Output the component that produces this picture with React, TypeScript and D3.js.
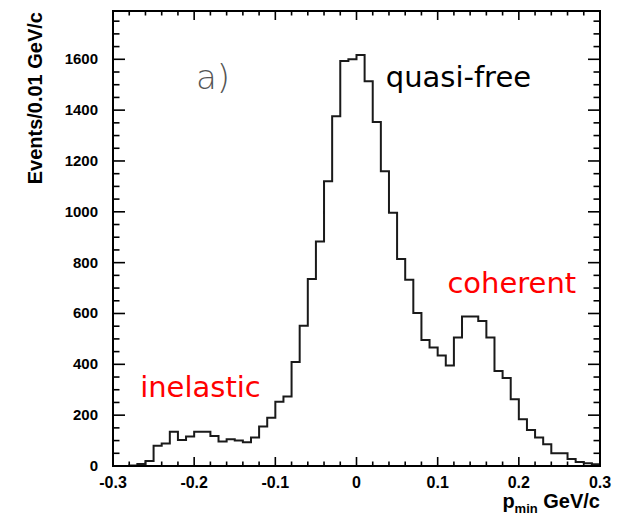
import React from "react";
import * as d3 from "d3";

// ---- data (Events per 0.01 GeV/c bin, bins from -0.30 to 0.30) ----
const binStart = -0.3;
const binWidth = 0.01;
const counts: number[] = [
  0, 0, 2, 8, 20, 80, 89, 135, 102, 116,
  135, 135, 118, 96, 105, 100, 93, 112, 155, 190,
  253, 273, 409, 552, 736, 883, 1120, 1376, 1593, 1600,
  1617, 1514, 1353, 1160, 996, 814, 733, 602, 496, 466,
  435, 395, 506, 588, 588, 570, 506, 374, 346, 263,
  184, 142, 112, 86, 50, 50, 28, 16, 11, 7,
];
const xTickLabels = ["-0.3", "-0.2", "-0.1", "0", "0.1", "0.2", "0.3"];
const xTickValues = [-0.3, -0.2, -0.1, 0, 0.1, 0.2, 0.3];
const yTickValues = [0, 200, 400, 600, 800, 1000, 1200, 1400, 1600];
const yTickLabels = ["0", "200", "400", "600", "800", "1000", "1200", "1400", "1600"];
const annotations = [
  { text: "quasi-free", x: 0.036, y: 1490, color: "#000" },
  { text: "coherent", x: 0.112, y: 680, color: "#ff0000" },
  { text: "inelastic", x: -0.2665, y: 270, color: "#ff0000" },
];

const W = 621;
const H = 517;
const L = 113, R = 600, T = 11, B = 466;

export default function App() {
  const x = d3.scaleLinear().domain([-0.3, 0.3]).range([L, R]);
  const y = d3.scaleLinear().domain([0, 1790]).range([B, T]);

  const pts: [number, number][] = counts.map((c, i) => [binStart + i * binWidth, c]);
  pts.push([binStart + counts.length * binWidth, counts[counts.length - 1]]);
  const line = d3
    .line<[number, number]>()
    .x((d) => x(d[0]))
    .y((d) => y(d[1]))
    .curve(d3.curveStepAfter);
  const path = line(pts) || "";

  const xMinor = d3.range(0, 31).map((i) => -0.3 + i * 0.02);
  const yMinor = d3.range(0, 36).map((i) => i * 50);

  const tickFont = "'Liberation Sans', Arial, sans-serif";
  const annFont = "'DejaVu Sans', sans-serif";

  return (
    <svg width={W} height={H} style={{ position: "absolute", left: 0, top: 0, background: "#fff" }}>
      <rect x={0} y={0} width={W} height={H} fill="#fff" />
      {/* ticks */}
      <g stroke="#000" strokeWidth={1.6}>
        {xMinor.map((v, i) => {
          const major = i % 5 === 0;
          const len = major ? 9 : 4.5;
          return (
            <g key={"xm" + i}>
              <line x1={x(v)} x2={x(v)} y1={B} y2={B - len} />
              <line x1={x(v)} x2={x(v)} y1={T} y2={T + len} />
            </g>
          );
        })}
        {yMinor.map((v, i) => {
          const major = i % 4 === 0;
          const len = major ? 12 : 6.5;
          return (
            <g key={"ym" + i}>
              <line x1={L} x2={L + len} y1={y(v)} y2={y(v)} />
              <line x1={R} x2={R - len} y1={y(v)} y2={y(v)} />
            </g>
          );
        })}
      </g>
      {/* histogram */}
      <path d={path} fill="none" stroke="#1a1a1a" strokeWidth={2} />
      {/* frame */}
      <rect x={L} y={T} width={R - L} height={B - T} fill="none" stroke="#000" strokeWidth={2} />
      {/* tick labels */}
      <g fontFamily={tickFont} fontWeight="bold" fill="#000">
        {xTickValues.map((v, i) => (
          <text key={"xl" + i} x={x(v)} y={488} textAnchor="middle" fontSize={16}>
            {xTickLabels[i]}
          </text>
        ))}
        {yTickValues.map((v, i) => (
          <text key={"yl" + i} x={98} y={y(v) + 5} textAnchor="end" fontSize={15}>
            {yTickLabels[i]}
          </text>
        ))}
      </g>
      {/* axis titles */}
      <text
        transform={`translate(42, ${T + 1}) rotate(-90)`}
        textAnchor="end"
        fontFamily={tickFont}
        fontWeight="bold"
        fontSize={20}
      >
        Events/0.01 GeV/c
      </text>
      <text x={R} y={508} textAnchor="end" fontFamily={tickFont} fontWeight="bold" fontSize={20}>
        <tspan>p</tspan>
        <tspan fontSize={13} dy={5}>min</tspan>
        <tspan dy={-5}> GeV/c</tspan>
      </text>
      {/* panel label */}
      <text x={196} y={89} fontFamily="'DejaVu Sans', sans-serif" fontWeight={200} fontSize={34} fill="#555">
        a)
      </text>
      {annotations.map((a, i) => (
        <text key={"an" + i} x={x(a.x)} y={y(a.y)} fontFamily={annFont} fontSize={29} fill={a.color}>
          {a.text}
        </text>
      ))}
    </svg>
  );
}
